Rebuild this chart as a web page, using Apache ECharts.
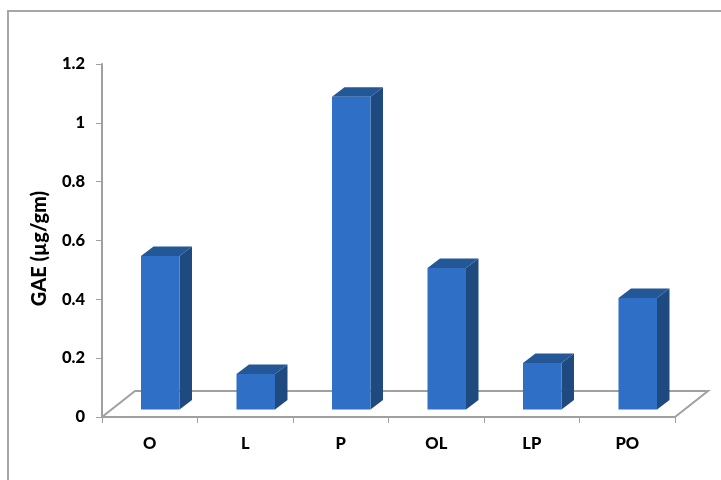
<!DOCTYPE html>
<html>
<head>
<meta charset="utf-8">
<style>html,body{margin:0;padding:0;background:#fff}#chart{width:721px;height:480px}</style>
<script src="https://cdn.jsdelivr.net/npm/echarts@6/dist/echarts.min.js"></script>
</head>
<body>
<div id="chart"></div>
<script>
const categories = ['O', 'L', 'P', 'OL', 'LP', 'PO'];
const gaeValues = [0.522, 0.121, 1.063, 0.481, 0.158, 0.379];
const valueTicks = [0, 0.2, 0.4, 0.6, 0.8, 1, 1.2];

const FONT = 'Lato, "Open Sans", sans-serif';
const AXIS_GREY = '#a0a0a0';
const INK = '#000000';
const LABEL_WEIGHT = 900;
// Oblique depth of the pseudo-3D floor and columns
const FLOOR_DX = 33, FLOOR_DY = -26;
const BAR_DX = 12.5, BAR_DY = -9.5;
const BAR_WIDTH = 38.5, BAR_LIFT = 7.5, BAR_SHIFT = 10.5;

const chart = echarts.init(document.getElementById('chart'), null, { renderer: 'canvas' });

function renderFloor(params, api) {
  const cs = params.coordSys;
  const y0 = api.coord([0, 0])[1];
  const left = cs.x, right = cs.x + cs.width;
  return {
    type: 'polyline',
    silent: true,
    shape: { points: [
      [left, y0],
      [left + FLOOR_DX, y0 + FLOOR_DY],
      [right + FLOOR_DX, y0 + FLOOR_DY],
      [right, y0]
    ] },
    style: { fill: null, stroke: AXIS_GREY, lineWidth: 2 }
  };
}

function renderColumn(params, api) {
  const idx = api.value(0);
  const top = api.coord([idx, api.value(1)]);
  const base = api.coord([idx, 0]);
  const x0 = top[0] - BAR_WIDTH / 2 + BAR_SHIFT;
  const x1 = x0 + BAR_WIDTH;
  const yT = top[1] - BAR_LIFT;
  const yB = base[1] - BAR_LIFT;
  return {
    type: 'group',
    children: [
      { type: 'polygon',
        shape: { points: [[x1, yT], [x1 + BAR_DX, yT + BAR_DY], [x1 + BAR_DX, yB + BAR_DY], [x1, yB]] },
        style: { fill: '#1f4a80' } },
      { type: 'polygon',
        shape: { points: [[x0, yT], [x0 + BAR_DX, yT + BAR_DY], [x1 + BAR_DX, yT + BAR_DY], [x1, yT]] },
        style: { fill: '#235796' } },
      { type: 'rect',
        shape: { x: x0, y: yT, width: BAR_WIDTH, height: yB - yT },
        style: { fill: '#2f70c6' } }
    ]
  };
}

chart.setOption({
  animation: false,
  backgroundColor: '#ffffff',
  graphic: [{
    type: 'polyline',
    silent: true,
    shape: { points: [[8, 480], [8, 11], [721, 11]] },
    style: { fill: null, stroke: '#a6a6a6', lineWidth: 2 }
  }],
  grid: { left: 102, right: 46, top: 64, bottom: 63 },
  xAxis: {
    type: 'category',
    data: categories,
    axisLine: { show: true, lineStyle: { color: AXIS_GREY, width: 2 } },
    axisTick: { show: true, alignWithLabel: false, length: 6, lineStyle: { color: AXIS_GREY, width: 1 } },
    axisLabel: { color: INK, fontFamily: FONT, fontWeight: LABEL_WEIGHT, fontSize: 16.5, margin: 18 },
    splitLine: { show: false }
  },
  yAxis: {
    type: 'value',
    min: 0,
    max: 1.2,
    interval: 0.2,
    name: 'GAE (µg/gm)',
    nameLocation: 'middle',
    nameGap: 52,
    nameTextStyle: { color: INK, fontFamily: FONT, fontWeight: LABEL_WEIGHT, fontSize: 20, padding: [0, 16, 0, 0] },
    axisLine: { show: true, lineStyle: { color: AXIS_GREY, width: 2 } },
    axisTick: { show: true, length: 6, lineStyle: { color: AXIS_GREY, width: 1 } },
    axisLabel: {
      color: INK, fontFamily: FONT, fontWeight: LABEL_WEIGHT, fontSize: 16.5, margin: 17,
      padding: [9, 0, 0, 0],
      formatter: v => String(valueTicks.find(t => Math.abs(t - v) < 1e-6))
    },
    splitLine: { show: false }
  },
  series: [
    { type: 'custom', renderItem: renderFloor, data: [[0, 0]], silent: true, z: 1, clip: false },
    { type: 'custom', renderItem: renderColumn, silent: true, z: 2, clip: false,
      encode: { x: 0, y: 1 },
      data: gaeValues.map((v, i) => [i, v]) }
  ]
});
</script>
</body>
</html>
